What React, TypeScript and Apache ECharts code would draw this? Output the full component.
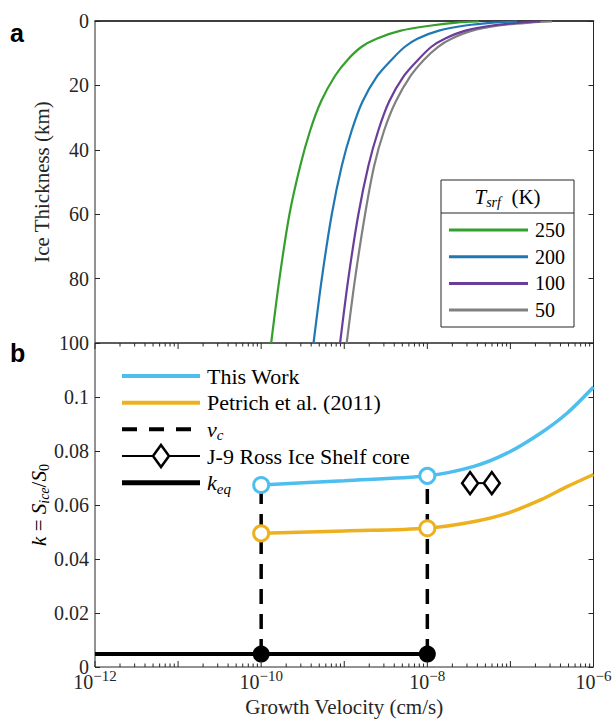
import React, { useEffect, useRef } from 'react';
import * as echarts from 'echarts';

// ---------- Panel a: ice thickness vs growth velocity ----------
const depthKm = [100, 80, 60, 45, 34, 25, 17, 12, 8, 5.5, 3, 1.4, 0.5, 0.15];
const velT250 = [1.32e-10, 1.66e-10, 2.19e-10, 2.95e-10, 3.89e-10, 5.25e-10, 7.76e-10, 1.1e-9, 1.62e-9, 2.45e-9, 4.79e-9, 1.12e-8, 2.24e-8, 4.17e-8];
const velT200 = [4.27e-10, 5.37e-10, 7.08e-10, 9.33e-10, 1.23e-9, 1.66e-9, 2.51e-9, 3.72e-9, 5.37e-9, 7.59e-9, 1.38e-8, 2.88e-8, 6.17e-8, 1.2e-7];
const velT100 = [8.91e-10, 1.12e-9, 1.48e-9, 1.95e-9, 2.57e-9, 3.47e-9, 5.25e-9, 7.76e-9, 1.12e-8, 1.62e-8, 2.88e-8, 6.03e-8, 1.32e-7, 2.29e-7];
const velT50 = [1.07e-9, 1.35e-9, 1.78e-9, 2.29e-9, 3.02e-9, 4.17e-9, 6.31e-9, 9.12e-9, 1.35e-8, 1.95e-8, 3.47e-8, 7.24e-8, 1.74e-7, 3.16e-7];
const surfTemps = ['250', '200', '100', '50'];
const tempColors = ['#33A02C', '#1F78B4', '#6A3D9A', '#808080'];
const tempVelocities = [velT250, velT200, velT100, velT50];

// ---------- Panel b: partition coefficient ----------
const growthVel = [1e-10, 1e-9, 1e-8, 3.55e-8, 9.1e-8, 2.3e-7, 4.8e-7, 1e-6];
const kThisWork = [0.0674, 0.069, 0.0708, 0.0742, 0.0792, 0.0866, 0.094, 0.1037];
const kPetrich = [0.0495, 0.0504, 0.0514, 0.0538, 0.0569, 0.0619, 0.0668, 0.0713];
const vCritical = [1e-10, 1e-8];
const kCritThisWork = [0.0674, 0.0708];
const kCritPetrich = [0.0495, 0.0514];
const kEq = 0.0048;
const kEqRange = [1e-12, 1e-8];
const rossVel = [3.27e-8, 5.97e-8];
const rossK = [0.0681, 0.0681];

// axis ticks (log axis, minor ticks at 2..9 x 10^n)
const tickDecades = [-12, -11, -10, -9, -8, -7];
const tickMultipliers = [1, 2, 3, 4, 5, 6, 7, 8, 9];
const lastTick = 1e-6;

const serif = "'Liberation Serif', 'Times New Roman', serif";
const sans = "'Liberation Sans', Arial, sans-serif";
const axisColor = '#262626';
const cyan = '#4DBEEE';
const orange = '#EDB120';
const FS = 20;
const FT = 21; // axis titles
const FL = 22; // legend texts

const mathRich: any = {
  i: { fontFamily: serif, fontStyle: 'italic', fontSize: FT, color: '#000' },
  n: { fontFamily: serif, fontSize: FT, color: '#000' },
  s: { fontFamily: serif, fontStyle: 'italic', fontSize: 14, padding: [11, 0, 0, 0], color: '#000' },
  u: { fontFamily: serif, fontSize: 14, padding: [11, 0, 0, 0], color: '#000' },
};

export default function App() {
  const ref = useRef<HTMLDivElement>(null);

  useEffect(() => {
    if (!ref.current) return;
    const chart = echarts.init(ref.current, undefined, { renderer: 'svg' });

    const tickData: any[] = [];
    tickDecades.forEach((d) => {
      tickMultipliers.forEach((m) => {
        tickData.push([m * Math.pow(10, d), 0, m === 1 ? 1 : 0]);
      });
    });
    tickData.push([lastTick, 0, 1]);

    const gridL = 95;
    const gridW = 498.5;

    const topSeries = tempVelocities.map((vels, i) => ({
      type: 'line',
      name: surfTemps[i],
      xAxisIndex: 0,
      yAxisIndex: 0,
      data: vels.map((v, j) => [v, depthKm[j]]),
      showSymbol: false,
      symbol: 'none',
      smooth: 0.3,
      lineStyle: { color: tempColors[i], width: 2.2 },
      z: 3 + (3 - i),
    }));

    const legendTopX = 441;
    const legendTopY = 180;
    const legendTopW = 133;
    const legendTopH = 147;

    const graphicEls: any[] = [
      {
        type: 'text', left: 10, top: 20, z: 100,
        style: { text: 'a', fontFamily: sans, fontWeight: 'bold', fontSize: 25, fill: '#000' },
      },
      {
        type: 'text', left: 10, top: 340, z: 100,
        style: { text: 'b', fontFamily: sans, fontWeight: 'bold', fontSize: 25, fill: '#000' },
      },
      {
        type: 'text', z: 100, x: gridL + gridW / 2, y: 707,
        style: { text: 'Growth Velocity (cm/s)', fontFamily: serif, fontSize: FT, fill: axisColor, align: 'center', verticalAlign: 'middle' },
      },
      {
        type: 'rect', z: 100,
        shape: { x: legendTopX, y: legendTopY, width: legendTopW, height: legendTopH },
        style: { fill: '#fff', stroke: axisColor, lineWidth: 1 },
      },
      {
        type: 'line', z: 101,
        shape: { x1: legendTopX, y1: 213, x2: legendTopX + legendTopW, y2: 213 },
        style: { stroke: axisColor, lineWidth: 1 },
      },
      {
        type: 'text', z: 101, x: legendTopX + legendTopW / 2, y: 197,
        style: {
          text: '{i|T}{s|srf}{n|\u2002(K)}', align: 'center', verticalAlign: 'middle',
          rich: mathRich, fontFamily: serif, fontSize: FT, fill: '#000',
        },
      },
    ];
    surfTemps.forEach((t, i) => {
      const y = 230 + i * 26.7;
      graphicEls.push({
        type: 'line', z: 101,
        shape: { x1: 449, y1: y, x2: 528, y2: y },
        style: { stroke: tempColors[i], lineWidth: 3 },
      });
      graphicEls.push({
        type: 'text', z: 101, x: 535, y,
        style: { text: t, fontFamily: serif, fontSize: FS, fill: '#000', verticalAlign: 'middle', align: 'left' },
      });
    });

    // bottom legend
    const lgX1 = 122;
    const lgX2 = 200;
    const lgTX = 207;
    const lgY = [376, 402.7, 429.3, 456, 482.7];
    const lgRich: any = {
      i: { fontFamily: serif, fontStyle: 'italic', fontSize: FL, color: '#000' },
      s: { fontFamily: serif, fontStyle: 'italic', fontSize: 15, padding: [12, 0, 0, 0], color: '#000' },
    };
    graphicEls.push(
      { type: 'line', z: 101, shape: { x1: lgX1, y1: lgY[0], x2: lgX2, y2: lgY[0] }, style: { stroke: cyan, lineWidth: 4 } },
      { type: 'line', z: 101, shape: { x1: lgX1, y1: lgY[1], x2: lgX2, y2: lgY[1] }, style: { stroke: orange, lineWidth: 4 } },
      { type: 'line', z: 101, shape: { x1: lgX1, y1: lgY[2], x2: lgX2, y2: lgY[2] }, style: { stroke: '#000', lineWidth: 4, lineDash: [15, 12] } },
      { type: 'line', z: 101, shape: { x1: lgX1, y1: lgY[3], x2: lgX2, y2: lgY[3] }, style: { stroke: '#000', lineWidth: 2 } },
      {
        type: 'polygon', z: 102,
        shape: { points: [[(lgX1 + lgX2) / 2, lgY[3] - 11], [(lgX1 + lgX2) / 2 + 8, lgY[3]], [(lgX1 + lgX2) / 2, lgY[3] + 11], [(lgX1 + lgX2) / 2 - 8, lgY[3]]] },
        style: { fill: '#fff', stroke: '#000', lineWidth: 2.5 },
      },
      { type: 'line', z: 101, shape: { x1: lgX1, y1: lgY[4], x2: lgX2, y2: lgY[4] }, style: { stroke: '#000', lineWidth: 5 } },
      { type: 'text', z: 101, x: lgTX, y: lgY[0], style: { text: 'This Work', fontFamily: serif, fontSize: FL, fill: '#000', verticalAlign: 'middle' } },
      { type: 'text', z: 101, x: lgTX, y: lgY[1], style: { text: 'Petrich et al. (2011)', fontFamily: serif, fontSize: FL, fill: '#000', verticalAlign: 'middle' } },
      { type: 'text', z: 101, x: lgTX, y: lgY[2], style: { text: '{i|v}{s|c}', rich: lgRich, fontFamily: serif, fontSize: FL, fill: '#000', verticalAlign: 'middle' } },
      { type: 'text', z: 101, x: lgTX, y: lgY[3], style: { text: 'J-9 Ross Ice Shelf core', fontFamily: serif, fontSize: FL, fill: '#000', verticalAlign: 'middle' } },
      { type: 'text', z: 101, x: lgTX, y: lgY[4], style: { text: '{i|k}{s|eq}', rich: lgRich, fontFamily: serif, fontSize: FL, fill: '#000', verticalAlign: 'middle' } },
    );

    const yTickCommon = {
      axisTick: { show: true, inside: true, length: 5, lineStyle: { color: axisColor, width: 1 } },
      axisLine: { show: false },
      splitLine: { show: false },
    };

    const option: any = {
      animation: false,
      backgroundColor: '#fff',
      grid: [
        { left: gridL, width: gridW, top: 21, height: 322, show: true, borderColor: axisColor, borderWidth: 1, backgroundColor: 'transparent', outerBoundsMode: 'none', containLabel: false },
        { left: gridL, width: gridW, top: 343, height: 324, show: true, borderColor: axisColor, borderWidth: 1, backgroundColor: 'transparent', outerBoundsMode: 'none', containLabel: false },
      ],
      xAxis: [
        {
          type: 'log', logBase: 10, gridIndex: 0, min: 1e-12, max: 1e-6, position: 'top',
          axisLabel: { show: false }, axisTick: { show: false }, splitLine: { show: false },
          axisLine: { show: true, onZero: false, lineStyle: { color: '#222', width: 1.6 } },
        },
        {
          type: 'log', logBase: 10, gridIndex: 1, min: 1e-12, max: 1e-6, position: 'bottom',
          axisTick: { show: false }, splitLine: { show: false }, axisLine: { show: false },
          axisLabel: {
            show: true, margin: 1, hideOverlap: false, overflow: 'none',
            formatter: (v: number) => {
              const e = Math.round(Math.log10(v));
              if (e % 2 !== 0) return '';
              return `{b|10}{p|\u2212${Math.abs(e)}}`;
            },
            rich: {
              b: { fontFamily: serif, fontSize: FS, color: axisColor },
              p: { fontFamily: serif, fontSize: 15, color: axisColor, padding: [0, 0, 13, 0] },
            },
          },
        },
      ],
      yAxis: [
        {
          type: 'value', gridIndex: 0, inverse: true, min: 0, max: 100, interval: 20, position: 'left',
          ...yTickCommon,
          axisLabel: { fontFamily: serif, fontSize: FS, color: axisColor, margin: 6 },
          name: 'Ice Thickness (km)', nameLocation: 'middle', nameGap: 43, nameMoveOverlap: false,
          nameTextStyle: { fontFamily: serif, fontSize: FT, color: axisColor },
        },
        {
          type: 'value', gridIndex: 0, inverse: true, min: 0, max: 100, interval: 20, position: 'right',
          ...yTickCommon, axisLabel: { show: false },
        },
        {
          type: 'value', gridIndex: 1, min: 0, max: 0.12, interval: 0.02, position: 'left',
          ...yTickCommon,
          axisLabel: {
            fontFamily: serif, fontSize: FS, color: axisColor, margin: 6,
            formatter: (v: number) => (v > 0.11 ? '' : String(Math.round(v * 100) / 100)),
          },
          name: '{i|k} {n|=} {i|S}{s|ice}{n|/}{i|S}{u|0}', nameLocation: 'middle', nameGap: 44, nameMoveOverlap: false,
          nameTextStyle: { fontFamily: serif, fontSize: FT, color: axisColor, rich: mathRich },
        },
        {
          type: 'value', gridIndex: 1, min: 0, max: 0.12, interval: 0.02, position: 'right',
          ...yTickCommon, axisLabel: { show: false },
        },
      ],
      graphic: graphicEls,
      series: [
        ...topSeries,
        {
          type: 'custom', name: 'xticks', xAxisIndex: 1, yAxisIndex: 2, silent: true, z: 10,
          data: tickData, encode: { x: 0, y: 1 },
          renderItem: (params: any, api: any) => {
            const v = api.value(0);
            const major = api.value(2) === 1;
            const pb = api.coord([v, 0]);
            const pt = api.coord([v, 0.12]);
            const len = major ? 6 : 3.5;
            const st = { stroke: axisColor, lineWidth: 1 };
            return {
              type: 'group',
              children: [
                { type: 'line', shape: { x1: pb[0], y1: pb[1], x2: pb[0], y2: pb[1] - len }, style: st },
                { type: 'line', shape: { x1: pt[0], y1: pt[1], x2: pt[0], y2: pt[1] + len }, style: st },
              ],
            };
          },
        },
        // k_eq line
        {
          type: 'line', name: 'keq', xAxisIndex: 1, yAxisIndex: 2,
          data: kEqRange.map((v) => [v, kEq]), showSymbol: false, symbol: 'none',
          lineStyle: { color: '#000', width: 4 }, z: 3,
        },
        // v_c dashed lines
        ...vCritical.map((v, i) => ({
          type: 'line', name: i === 0 ? 'vc' : 'vc2', xAxisIndex: 1, yAxisIndex: 2,
          data: [[v, kEq], [v, kCritThisWork[i]]], showSymbol: false, symbol: 'none',
          lineStyle: { color: '#000', width: 3.5, type: [15, 10] }, z: 3,
        })),
        {
          type: 'line', name: 'This Work', xAxisIndex: 1, yAxisIndex: 2,
          data: growthVel.map((v, i) => [v, kThisWork[i]]), showSymbol: false, symbol: 'none', smooth: 0.3,
          lineStyle: { color: cyan, width: 3.5 }, z: 4,
        },
        {
          type: 'line', name: 'Petrich et al. (2011)', xAxisIndex: 1, yAxisIndex: 2,
          data: growthVel.map((v, i) => [v, kPetrich[i]]), showSymbol: false, symbol: 'none', smooth: 0.3,
          lineStyle: { color: orange, width: 3.5 }, z: 4,
        },
        {
          type: 'scatter', xAxisIndex: 1, yAxisIndex: 2, symbol: 'circle', symbolSize: 15,
          data: vCritical.map((v, i) => [v, kCritThisWork[i]]),
          itemStyle: { color: '#fff', borderColor: cyan, borderWidth: 3, opacity: 1 }, z: 6,
        },
        {
          type: 'scatter', xAxisIndex: 1, yAxisIndex: 2, symbol: 'circle', symbolSize: 15,
          data: vCritical.map((v, i) => [v, kCritPetrich[i]]),
          itemStyle: { color: '#fff', borderColor: orange, borderWidth: 3, opacity: 1 }, z: 6,
        },
        {
          type: 'scatter', xAxisIndex: 1, yAxisIndex: 2, symbol: 'circle', symbolSize: 17,
          data: vCritical.map((v) => [v, kEq]),
          itemStyle: { color: '#000', opacity: 1 }, z: 6,
        },
        {
          type: 'line', name: 'J-9 Ross Ice Shelf core', xAxisIndex: 1, yAxisIndex: 2,
          data: rossVel.map((v, i) => [v, rossK[i]]), showSymbol: true, symbol: 'diamond', symbolSize: [16, 22],
          lineStyle: { color: '#000', width: 2 },
          itemStyle: { color: '#fff', borderColor: '#000', borderWidth: 2.5 }, z: 6,
        },
      ],
    };

    chart.setOption(option);
    return () => chart.dispose();
  }, []);

  return (
    <div
      ref={ref}
      style={{ position: 'absolute', left: 0, top: 0, width: 613, height: 719, background: '#fff' }}
    />
  );
}
